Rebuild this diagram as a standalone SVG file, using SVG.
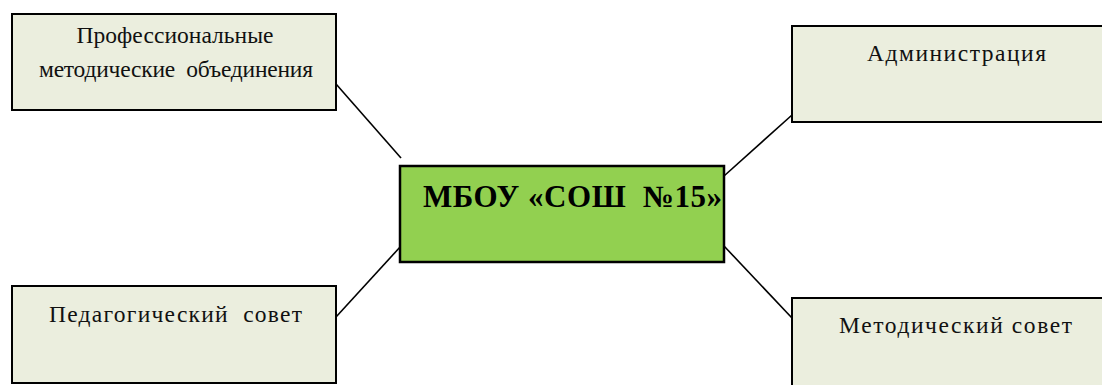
<svg xmlns="http://www.w3.org/2000/svg" width="1102" height="385" viewBox="0 0 1102 385">
<style>
.box{fill:#EBEEDE;stroke:#000;stroke-width:2}
.center{fill:#92D050;stroke:#000;stroke-width:2.5}
.t{font-family:"Liberation Serif","Times New Roman",serif;font-size:23.5px;fill:#111;text-anchor:middle}
.tb{font-family:"Liberation Serif","Times New Roman",serif;font-size:31px;font-weight:bold;fill:#000}
.c{stroke:#000;stroke-width:1.6;fill:none}
</style>
<rect width="1102" height="385" fill="#fff"/>
<g id="connectors">
<line class="c" x1="336" y1="84" x2="401" y2="158"/>
<line class="c" x1="724" y1="176" x2="792" y2="115"/>
<line class="c" x1="336" y1="317" x2="401" y2="246"/>
<line class="c" x1="724" y1="246" x2="792" y2="318"/>
</g>
<g id="node-pmo">
<rect class="box" x="12" y="14" width="324" height="96"/>
<text class="t" x="175" y="43" textLength="197" lengthAdjust="spacing">Профессиональные</text>
<text class="t" x="176" y="77" textLength="274" lengthAdjust="spacing" xml:space="preserve">методические  объединения</text>
</g>
<g id="node-admin">
<rect class="box" x="792" y="26" width="320" height="96"/>
<text class="t" x="956.5" y="61" textLength="179" lengthAdjust="spacing">Администрация</text>
</g>
<g id="node-center">
<rect class="center" x="400" y="166" width="324" height="96"/>
<text class="tb" x="423" y="207" textLength="299" lengthAdjust="spacing" xml:space="preserve">МБОУ «СОШ  №15»</text>
</g>
<g id="node-ped">
<rect class="box" x="12" y="286" width="324" height="97"/>
<text class="t" x="175.5" y="321.5" textLength="253" lengthAdjust="spacing" xml:space="preserve">Педагогический  совет</text>
</g>
<g id="node-met">
<rect class="box" x="792" y="298" width="320" height="100"/>
<text class="t" x="955.5" y="333" textLength="233" lengthAdjust="spacing">Методический совет</text>
</g>
</svg>
